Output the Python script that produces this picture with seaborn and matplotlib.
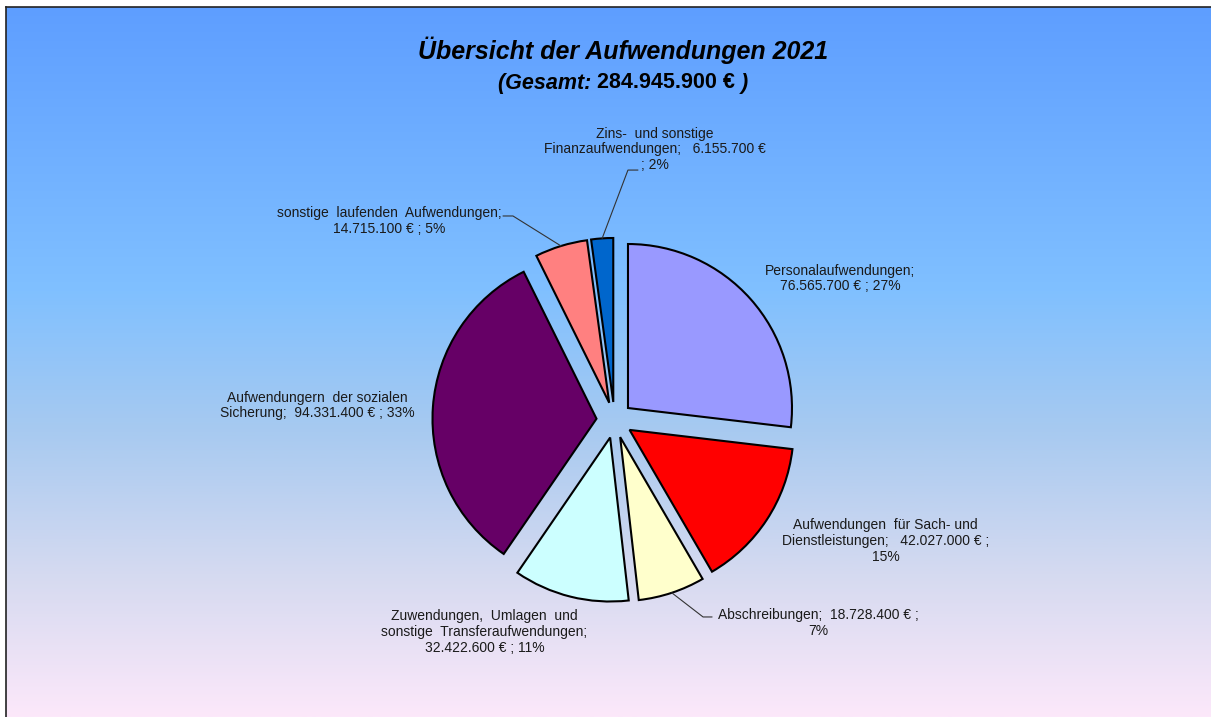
import matplotlib
matplotlib.use("Agg")
import matplotlib.pyplot as plt
import numpy as np
import seaborn as sns
from matplotlib.colors import LinearSegmentedColormap

# chart data
categories = [
    "Personalaufwendungen",
    "Aufwendungen für Sach- und Dienstleistungen",
    "Abschreibungen",
    "Zuwendungen, Umlagen und sonstige Transferaufwendungen",
    "Aufwendungern der sozialen Sicherung",
    "sonstige laufenden Aufwendungen",
    "Zins- und sonstige Finanzaufwendungen",
]
values = [76565700, 42027000, 18728400, 32422600, 94331400, 14715100, 6155700]
colors = ["#9999FF", "#FF0000", "#FFFFCC", "#CCFFFF", "#660066", "#FF8080", "#0066CC"]
label_templates = [
    "Personalaufwendungen;\n{v} € ; {p}%",
    "Aufwendungen  für Sach- und\nDienstleistungen;   {v} € ;\n{p}%",
    "Abschreibungen;  {v} € ;\n{p}%",
    "Zuwendungen,  Umlagen  und\nsonstige  Transferaufwendungen;\n{v} € ; {p}%",
    "Aufwendungern  der sozialen\nSicherung;  {v} € ; {p}%",
    "sonstige  laufenden  Aufwendungen;\n{v} € ; {p}%",
    "Zins-  und sonstige\nFinanzaufwendungen;   {v} €\n; {p}%",
]
title = "Übersicht der Aufwendungen 2021"

# layout (radius units, relative to pie centre)
label_pos = [(1.375, 0.863), (1.652, -0.738), (1.241, -1.238), (-0.793, -1.293),
             (-1.814, 0.088), (-1.375, 1.213), (0.247, 1.651)]
leaders = {2: (0.540, -1.201, 0.595), 5: (-0.619, 1.244, -0.680), 6: (0.082, 1.524, 0.143)}
explode = 0.11


def de_number(v):
    return f"{v:,}".replace(",", ".")


sns.set_style("white")
plt.rcParams["font.family"] = ["Liberation Sans", "DejaVu Sans"]

W, H = 1211, 717
R, CX, CY = 164, 614.5, 297
fig = plt.figure(figsize=(W / 100, H / 100), dpi=100)

# gradient background
bg = fig.add_axes([5.5 / W, 0, 1 - 5.5 / W, 1 - 6.5 / H])
cmap = LinearSegmentedColormap.from_list(
    "bg", [(0, "#5E9EFF"), (0.4, "#80C0FF"), (0.6, "#A8CAF0"), (0.8, "#D5DAF0"), (1, "#FCE8FA")])
bg.imshow(np.linspace(0, 1, 256).reshape(-1, 1), aspect="auto", cmap=cmap,
          extent=[0, 1, 0, 1], origin="upper")
bg.set_xticks([])
bg.set_yticks([])
for side, spine in bg.spines.items():
    spine.set_visible(side in ("left", "top"))
    spine.set_color("#222222")
    spine.set_linewidth(1.2)

# pie
ax = fig.add_axes([0, 0, 1, 1])
ax.patch.set_visible(False)
total = sum(values)
wedges, _ = ax.pie(values, colors=colors, startangle=90, counterclock=False,
                   explode=[explode] * len(values),
                   wedgeprops=dict(edgecolor="black", linewidth=1.5))
ax.set_xlim(-CX / R, (W - CX) / R)
ax.set_ylim(-CY / R, (H - CY) / R)
ax.set_aspect("auto")
ax.axis("off")

for i, (w, tmpl, (lx, ly)) in enumerate(zip(wedges, label_templates, label_pos)):
    pct = round(values[i] / total * 100)
    ax.text(lx, ly, tmpl.format(v=de_number(values[i]), p=pct), ha="center", va="center",
            fontsize=10, color="#1a1a1a", linespacing=1.15)
    if i in leaders:
        ang = np.deg2rad((w.theta1 + w.theta2) / 2)
        r = 1 + explode
        ex, ey, hx = leaders[i]
        ax.plot([r * np.cos(ang), ex, hx], [r * np.sin(ang), ey, ey],
                color="#333333", linewidth=0.8)

# title
fig.text(623 / W, 1 - 50 / H, title, ha="center", va="center", fontsize=18,
         fontweight="bold", style="italic", color="black")
renderer = fig.canvas.get_renderer()
parts = [("(Gesamt: ", "italic"), (f"{de_number(total)} €", "normal"), (" )", "italic")]
pieces = [fig.text(0, 1 - 83 / H, s, fontsize=15.5, fontweight="bold", style=st,
                   va="center", ha="left", color="black") for s, st in parts]
widths = [p.get_window_extent(renderer).width for p in pieces]
x = 623 - sum(widths) / 2
for p, wd in zip(pieces, widths):
    p.set_x(x / W)
    x += wd

fig.savefig("out.png", dpi=100)
